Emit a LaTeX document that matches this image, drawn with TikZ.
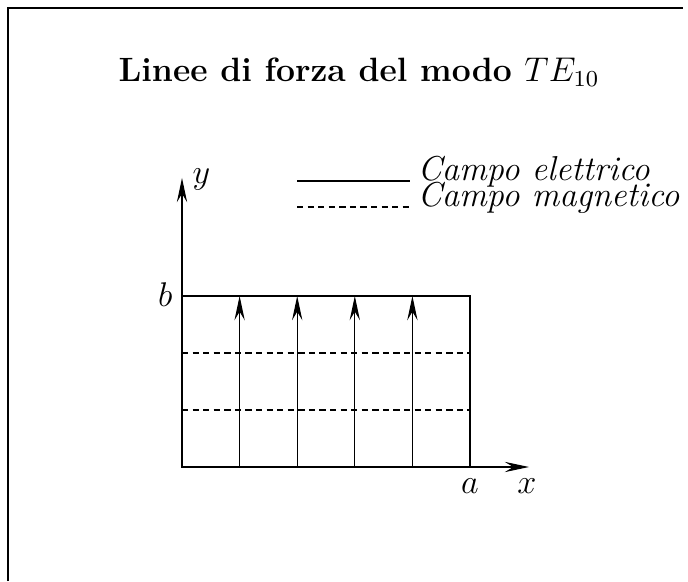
\documentclass[tikz,border=0pt]{standalone}
\usetikzlibrary{arrows.meta}
\begin{document}
\begin{tikzpicture}[x=0.35pt,y=-0.35pt,
  frameline/.style={line width=0.95pt},
  boxline/.style={line width=0.9pt},
  fieldarrow/.style={line width=0.4pt,-{Stealth[length=8.5pt,width=3.6pt,inset=3pt]}},
  magline/.style={line width=0.8pt,dash pattern=on 2.2pt off 1.5pt},
  lbl/.style={inner sep=0pt,font=\fontsize{12.1}{14}\selectfont},
  ttl/.style={inner sep=0pt,font=\fontsize{11.8}{14}\selectfont\bfseries}]
\useasboundingbox (0,0) rectangle (688,581);
% frame
\coordinate (f1) at (8,581);
\coordinate (f2) at (8,8);
\coordinate (f3) at (683,8);
\draw[frameline] (f1) -- (f2) -- (f3);
% title
\node[ttl] (title) at (359,72) {Linee di forza del modo $TE_{10}$};
% box corners
\coordinate (bl) at (182,467);
\coordinate (br) at (470,467);
\coordinate (tl) at (182,296);
\coordinate (tr) at (470,296);
% axes
\coordinate (ytip) at (182,178);
\coordinate (xtip) at (529,467);
\draw[fieldarrow] (tl) -- (ytip);
\draw[fieldarrow] (br) -- (xtip);
% electric field arrows
\foreach \i/\xx in {1/239.6,2/297.2,3/354.8,4/412.4}{
  \coordinate (eb\i) at (\xx,467);
  \coordinate (et\i) at (\xx,296);
  \draw[fieldarrow] (eb\i) -- (et\i);
}
% magnetic field lines
\coordinate (m1l) at (182,353);
\coordinate (m1r) at (470,353);
\coordinate (m2l) at (182,410);
\coordinate (m2r) at (470,410);
\draw[magline] (m1l) -- (m1r);
\draw[magline] (m2l) -- (m2r);
% box
\draw[boxline] (tl) rectangle (br);
% axis labels
\node[lbl,anchor=base west] (ylab) at (192,184) {$y$};
\node[lbl,anchor=base east] (blab) at (173,307) {$b$};
\node[lbl,anchor=base] (alab) at (470,493) {$a$};
\node[lbl,anchor=base] (xlab) at (527,493) {$x$};
% legend
\node[lbl,anchor=base west] (le) at (417,181) {\itshape Campo elettrico};
\node[lbl,anchor=base west] (lm) at (417,207) {\itshape Campo magnetico};
\coordinate (le0) at (297,181);
\coordinate (lm0) at (297,207);
\draw[boxline] (le0) -- ([xshift=-2.5pt]le.base west);
\draw[magline] (lm0) -- ([xshift=-2.5pt]lm.base west);
\end{tikzpicture}
\end{document}
